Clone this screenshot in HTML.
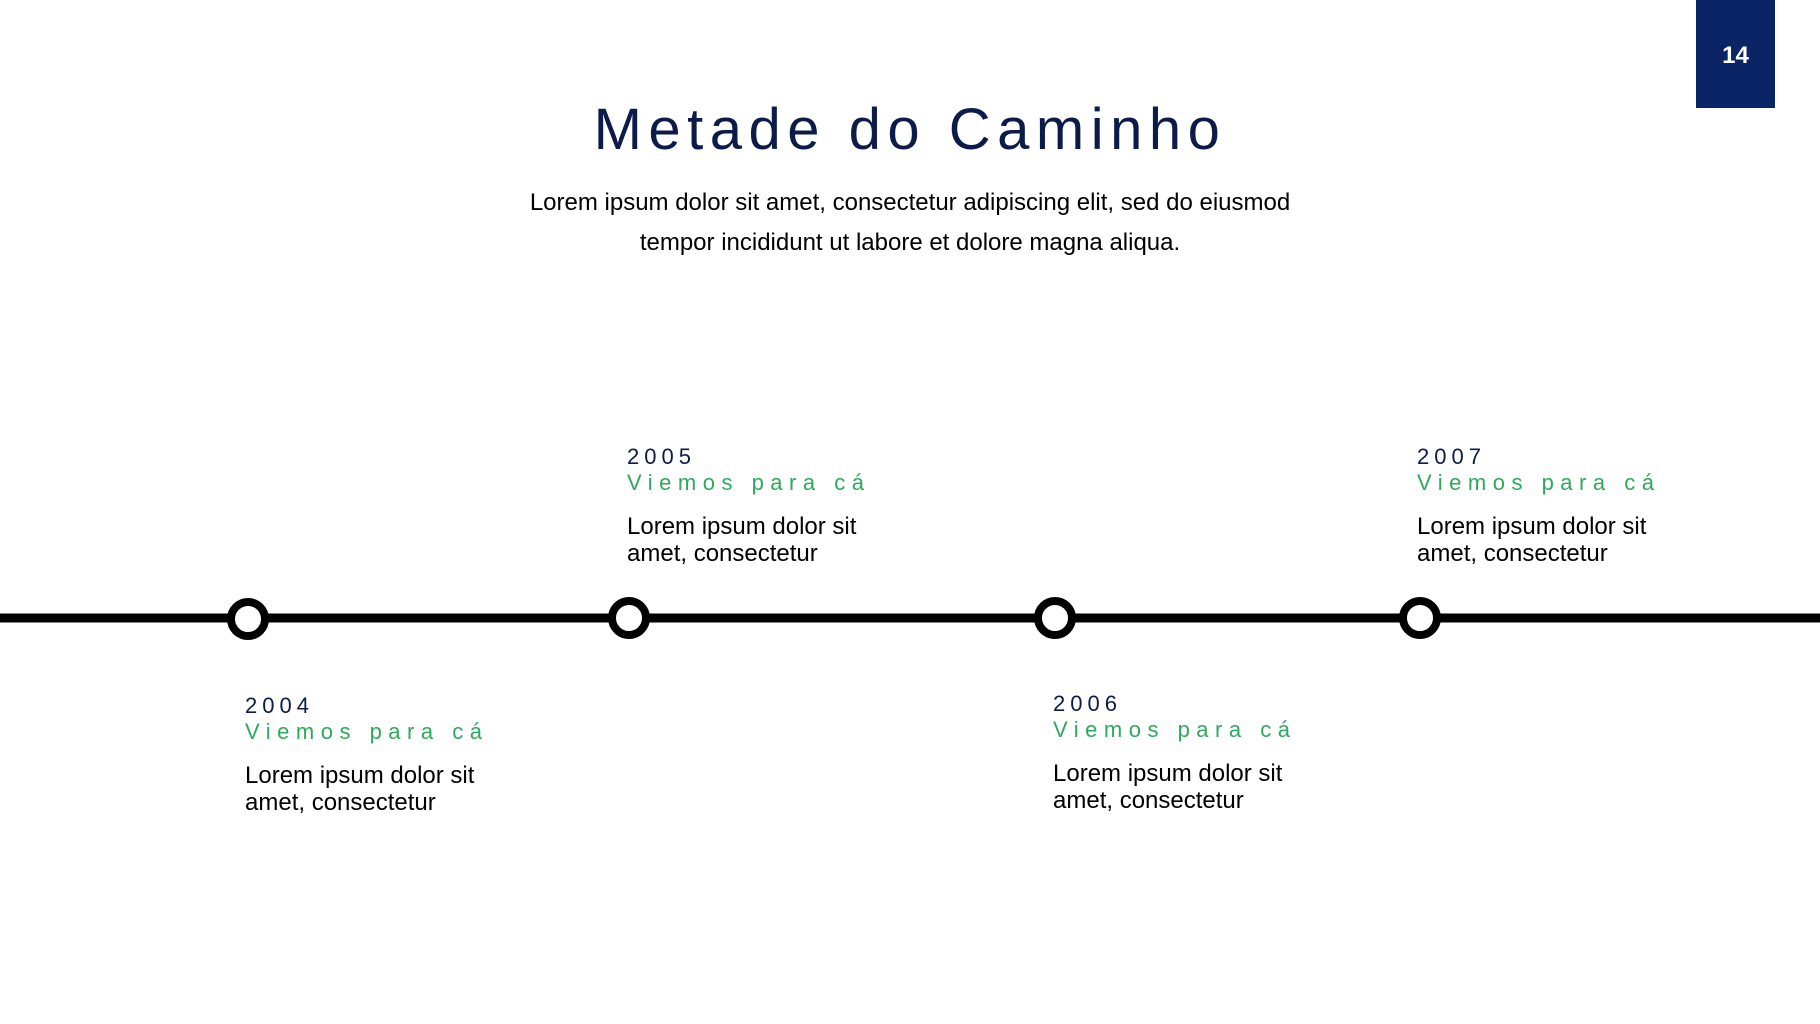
<!DOCTYPE html>
<html><head><meta charset="utf-8"><style>
body{margin:0;width:1820px;height:1024px;background:#fff;position:relative;overflow:hidden;font-family:"Liberation Sans",sans-serif}
.a{position:absolute;white-space:nowrap}
.yr{font-size:22px;letter-spacing:5px;color:#0c1b4a}
.vm{font-size:22px;letter-spacing:6.5px;color:#2daa5c}
.lo{font-size:24px;line-height:27px;color:#000}
</style></head><body>
<div class="a" style="left:1696px;top:0;width:79px;height:108px;background:#0b2466;color:#fff;font-size:24px;font-weight:bold;text-align:center;line-height:112px">14</div>
<div class="a" style="left:0;width:1820px;top:96px;text-align:center;font-size:58px;letter-spacing:6.5px;color:#0c1b4a">Metade do Caminho</div>
<div class="a" style="left:0;width:1820px;top:183px;text-align:center;font-size:24px;line-height:40px;color:#000">Lorem ipsum dolor sit amet, consectetur adipiscing elit, sed do eiusmod<br>tempor incididunt ut labore et dolore magna aliqua.</div>
<svg class="a" style="left:0;top:0" width="1820" height="1024">
<line x1="0" y1="618" x2="1820" y2="618" stroke="#000" stroke-width="9"/>
<g fill="#fff" stroke="#000" stroke-width="8">
<circle cx="248" cy="619" r="17"/><circle cx="629" cy="618" r="17"/><circle cx="1055" cy="618" r="17"/><circle cx="1420" cy="618" r="17"/></g>
</svg>
<div class="a" style="left:627px;top:444px"><div class="yr">2005</div><div class="vm">Viemos para cá</div><div class="lo" style="margin-top:17px">Lorem ipsum dolor sit<br>amet, consectetur</div></div>
<div class="a" style="left:1417px;top:444px"><div class="yr">2007</div><div class="vm">Viemos para cá</div><div class="lo" style="margin-top:17px">Lorem ipsum dolor sit<br>amet, consectetur</div></div>
<div class="a" style="left:245px;top:693px"><div class="yr">2004</div><div class="vm">Viemos para cá</div><div class="lo" style="margin-top:17px">Lorem ipsum dolor sit<br>amet, consectetur</div></div>
<div class="a" style="left:1053px;top:691px"><div class="yr">2006</div><div class="vm">Viemos para cá</div><div class="lo" style="margin-top:17px">Lorem ipsum dolor sit<br>amet, consectetur</div></div>
</body></html>
